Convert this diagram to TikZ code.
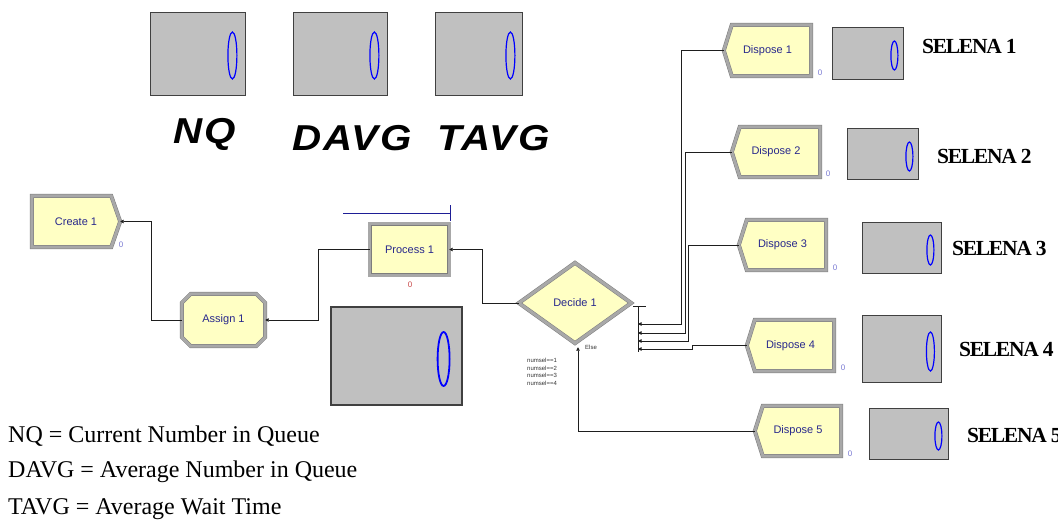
\documentclass[tikz,border=0pt]{standalone}
\usepackage{fontspec}
\setmainfont{Liberation Serif}
\newfontfamily\arialfont{Liberation Sans}
\newfontfamily\statfont[FakeStretch=1.12,LetterSpace=6]{Liberation Sans}
\newfontfamily\selfont[LetterSpace=-6]{Liberation Serif}
\usetikzlibrary{arrows.meta,backgrounds}

\definecolor{modfill}{RGB}{255,255,196}
\definecolor{bevel}{RGB}{168,168,168}
\definecolor{beveledge}{RGB}{125,125,125}
\definecolor{modtext}{RGB}{40,40,140}
\definecolor{dispfill}{RGB}{192,192,192}
\definecolor{cntblue}{RGB}{120,120,210}
\definecolor{cntred}{RGB}{200,70,70}
\definecolor{qcol}{RGB}{30,30,150}
\definecolor{conncol}{RGB}{30,30,30}

\begin{document}
\begin{tikzpicture}[x=1pt,y=-1pt,
  modshape/.style={draw=beveledge, line width=0.5pt, double=bevel,
    double distance=3pt, fill=modfill, line join=miter},
  modnode/.style={inner sep=0pt, font=\arialfont\fontsize{11}{13}\selectfont, text=modtext},
  disp/.style={draw=black!75, fill=dispfill, line width=0.8pt, inner sep=0pt},
  zero/.style={draw=blue, line width=1.2pt},
  statlbl/.style={inner sep=0pt, font=\statfont\bfseries\itshape\fontsize{36}{40}\selectfont},
  sellbl/.style={inner sep=0pt, font=\selfont\bfseries\fontsize{21.5}{24}\selectfont},
  leglbl/.style={inner sep=0pt, font=\fontsize{24}{28}\selectfont},
  cnt/.style={inner sep=0pt, font=\arialfont\fontsize{8}{9}\selectfont},
  condlbl/.style={inner sep=0pt, align=left, text=black!80,
    font=\arialfont\fontsize{6}{7.6}\selectfont},
  conn/.style={draw=conncol, line width=0.8pt},
  exitconn/.style={conn, {Triangle[length=3.5pt,width=3.5pt]}-},
  queue/.style={draw=qcol, line width=0.9pt}]

\useasboundingbox (0,0) rectangle (1058,525);

% ---------- statistic displays ----------
\node[disp, minimum width=95, minimum height=83] (nqbox) at (197.5,53.5) {};
\node[disp, minimum width=94, minimum height=83] (davgbox) at (340,53.5) {};
\node[disp, minimum width=87, minimum height=83] (tavgbox) at (478.5,53.5) {};
\draw[zero] ([xshift=-13pt,yshift=-2pt]nqbox.east) ellipse [x radius=4.5pt, y radius=23.5pt];
\draw[zero] ([xshift=-13pt,yshift=-2pt]davgbox.east) ellipse [x radius=4.5pt, y radius=23.5pt];
\draw[zero] ([xshift=-12pt,yshift=-2pt]tavgbox.east) ellipse [x radius=4.5pt, y radius=23.5pt];

\node[statlbl, anchor=base] (nqlbl) at (204.5,143) {NQ};
\node[statlbl, anchor=base] (davglbl) at (352,150) {DAVG};
\node[statlbl, anchor=base] (tavglbl) at (493.5,150) {TAVG};

\node[disp, line width=1.2pt, minimum width=131, minimum height=98] (bigbox) at (396.5,356) {};
\draw[zero, line width=1.8pt] ([xshift=-19pt,yshift=-3pt]bigbox.east) ellipse [x radius=6pt, y radius=27pt];

% ---------- modules ----------
\node[modnode, minimum width=88, minimum height=51] (create) at (76,221.5) {Create 1};
\node[modnode, minimum width=83, minimum height=52] (assign) at (223.5,320) {Assign 1};
\node[modnode, minimum width=79, minimum height=51] (process) at (409.5,249.5) {Process 1};
\node[modnode, minimum width=112, minimum height=80] (decide) at (575,303) {Decide 1};
\node[modnode, minimum width=87, minimum height=51] (dispose1) at (767.5,50.5) {Dispose 1};
\node[modnode, minimum width=88, minimum height=50] (dispose2) at (776,152) {Dispose 2};
\node[modnode, minimum width=87, minimum height=50] (dispose3) at (782.5,245) {Dispose 3};
\node[modnode, minimum width=87, minimum height=51] (dispose4) at (790.5,345.5) {Dispose 4};
\node[modnode, minimum width=86, minimum height=50] (dispose5) at (798,431) {Dispose 5};

\begin{scope}[on background layer]
  \draw[modshape] (create.north west) -- ([xshift=-9pt]create.north east) -- (create.east)
    -- ([xshift=-9pt]create.south east) -- (create.south west) -- cycle;
  \draw[modshape] ([xshift=9pt]assign.north west) -- ([xshift=-9pt]assign.north east)
    -- ([yshift=-9pt]assign.north east) -- ([yshift=9pt]assign.south east)
    -- ([xshift=-9pt]assign.south east) -- ([xshift=9pt]assign.south west)
    -- ([yshift=9pt]assign.south west) -- ([yshift=-9pt]assign.north west) -- cycle;
  \draw[modshape] (process.north west) rectangle (process.south east);
  \draw[modshape] (decide.west) -- (decide.north) -- (decide.east) -- (decide.south) -- cycle;
  \foreach \d in {dispose1,dispose2,dispose3,dispose4,dispose5}
    \draw[modshape] ([xshift=8pt]\d.north west) -- (\d.north east) -- (\d.south east)
      -- ([xshift=8pt]\d.south west) -- (\d.west) -- cycle;
\end{scope}

% entity counters
\node[cnt, text=cntblue] (ccreate) at (121,245) {0};
\node[cnt, text=cntred] (cprocess) at (410,285) {0};
\node[cnt, text=cntblue] (cd1) at (820,73) {0};
\node[cnt, text=cntblue] (cd2) at (828,174) {0};
\node[cnt, text=cntblue] (cd3) at (835,268) {0};
\node[cnt, text=cntblue] (cd4) at (843,368) {0};
\node[cnt, text=cntblue] (cd5) at (850,454) {0};

% queue of Process 1
\coordinate (qs) at (343,213);
\coordinate (qe) at (450,213);
\draw[queue] (qs) -- (qe);
\draw[queue] ([yshift=8pt]qe) -- ([yshift=-8pt]qe);

% ---------- connectors ----------
\draw[exitconn] (create.east) -- ++(31,0) |- (assign.west);
\draw[exitconn] (assign.east) -- ++(53,0) |- (process.west);
\draw[exitconn] (process.east) -- ++(33,0) |- (decide.west);

\coordinate (dbus) at ([xshift=7pt,yshift=-3pt]decide.east);
\draw[conn] ([xshift=-5pt]dbus) -- ([xshift=8pt]dbus);
\draw[conn] (dbus) -- ([yshift=-46pt]dbus);
\coordinate (o1) at (638,324);
\coordinate (o2) at (638,333);
\coordinate (o3) at (638,341);
\coordinate (o4) at (638,349);
\draw[exitconn] (o1) -- (681,324) |- (dispose1.west);
\draw[exitconn] (o2) -- (685,333) |- (dispose2.west);
\draw[exitconn] (o3) -- (688,341) |- (dispose3.west);
\draw[exitconn] (o4) -- (692,349) |- (dispose4.west);
\coordinate (oe) at ([xshift=3pt,yshift=-4pt]decide.south);
\draw[exitconn] (oe) |- (dispose5.west);

\node[condlbl, anchor=west] (conds) at (527,372) {numsel==1\\numsel==2\\numsel==3\\numsel==4};
\node[condlbl, anchor=west] (elselbl) at (585,347) {Else};

% ---------- record counters ----------
\node[disp, minimum width=71, minimum height=52] (sbox1) at (867.5,53) {};
\node[disp, minimum width=71, minimum height=51] (sbox2) at (882.5,153.5) {};
\node[disp, minimum width=79, minimum height=51] (sbox3) at (901.5,247.5) {};
\node[disp, minimum width=79, minimum height=67] (sbox4) at (901.5,348.5) {};
\node[disp, minimum width=79, minimum height=51] (sbox5) at (908.5,433.5) {};
\draw[zero] ([xshift=-9pt,yshift=-2.5pt]sbox1.east) ellipse [x radius=3.5pt, y radius=14.5pt];
\draw[zero] ([xshift=-9pt,yshift=-3pt]sbox2.east) ellipse [x radius=3.5pt, y radius=14.5pt];
\draw[zero] ([xshift=-11pt,yshift=-2.5pt]sbox3.east) ellipse [x radius=3.5pt, y radius=15pt];
\draw[zero] ([xshift=-11pt,yshift=-3pt]sbox4.east) ellipse [x radius=4pt, y radius=19.5pt];
\draw[zero] ([xshift=-10pt,yshift=-2.5pt]sbox5.east) ellipse [x radius=3.5pt, y radius=14pt];

\node[sellbl, anchor=base west] (sel1) at (922,53) {SELENA 1};
\node[sellbl, anchor=base west] (sel2) at (937,163) {SELENA 2};
\node[sellbl, anchor=base west] (sel3) at (952,255) {SELENA 3};
\node[sellbl, anchor=base west] (sel4) at (959,356) {SELENA 4};
\node[sellbl, anchor=base west] (sel5) at (967,442) {SELENA 5};

% ---------- legend ----------
\node[leglbl, anchor=base west] (leg1) at (8,442) {NQ = Current Number in Queue};
\node[leglbl, anchor=base west] (leg2) at (8,477) {DAVG = Average Number in Queue};
\node[leglbl, anchor=base west] (leg3) at (8,514) {TAVG = Average Wait Time};
\end{tikzpicture}
\end{document}
